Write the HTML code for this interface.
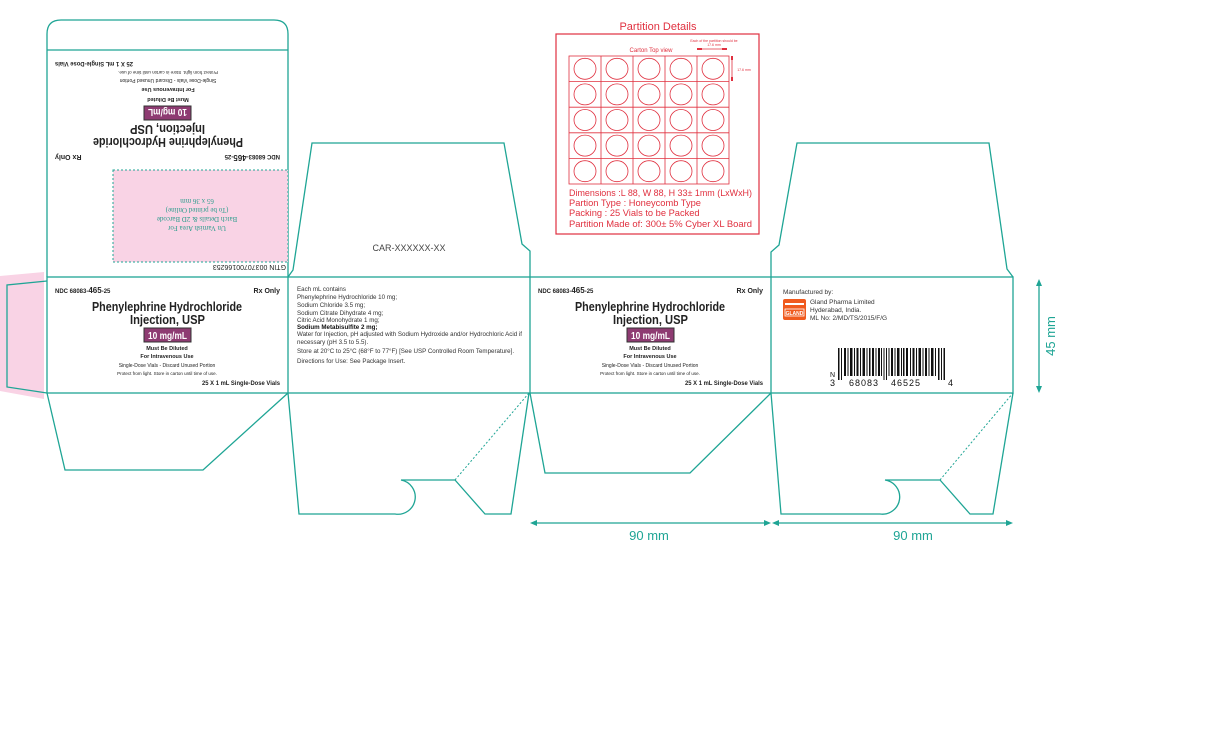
<!DOCTYPE html>
<html><head><meta charset="utf-8"><style>
html,body{margin:0;padding:0;background:#fff;}
svg{display:block;font-family:"Liberation Sans",sans-serif;}
</style></head><body>
<svg width="1208" height="732" viewBox="0 0 1208 732" xmlns="http://www.w3.org/2000/svg">
<g fill="none" stroke="#1fa595" stroke-width="1.3">
<polygon points="0,276 44,272 44,399 0,391" fill="#f9d3e5" stroke="none"/>
<polyline points="47,281 7,285 7,387 47,393"/>
<path d="M47,277 L47,34 Q47,20 61,20 L274,20 Q288,20 288,34 L288,277"/>
<line x1="47" y1="50" x2="288" y2="50"/>
<rect x="47" y="277" width="966" height="116"/>
<line x1="288" y1="277" x2="288" y2="393"/>
<line x1="530" y1="277" x2="530" y2="393"/>
<line x1="771" y1="277" x2="771" y2="393"/>
<polyline points="288,277 293,270 312,143 504,143 522,244 530,251 530,277"/>
<polyline points="771,277 771,252 779,245 797,143 989,143 1007,269 1013,277"/>
<polyline points="47,393 65,470 203,470 288,393"/>
<path d="M288,393 L299,514 L395,514 A17,17 0 0 0 401,480 L455,480 L485,514 L511,514 L529,393"/>
<polyline points="530,393 545,473 690,473 771,393"/>
<path d="M771,393 L781,514 L880,514 A17,17 0 0 0 885,480 L940,480 L970,514 L993,514 L1013,393"/>
</g>
<g stroke="#1fa595" stroke-width="1" stroke-dasharray="2,2" fill="none">
<line x1="455" y1="480" x2="529" y2="393"/>
<line x1="940" y1="480" x2="1013" y2="393"/>
</g>
<rect x="113" y="170" width="175" height="92" fill="#f9d3e5" stroke="#1fa595" stroke-width="1" stroke-dasharray="2,2"/>

<g transform="rotate(180 167.5 163.5)" fill="#222">
<text x="202" y="265" font-size="6.5" font-weight="bold" textLength="78" lengthAdjust="spacingAndGlyphs">25 X 1 mL Single-Dose Vials</text>
<text x="167" y="256" font-size="4.5" text-anchor="middle">Protect from light. Store in carton until time of use.</text>
<text x="167" y="248" font-size="5" text-anchor="middle">Single-Dose Vials - Discard Unused Portion</text>
<text x="167" y="239" font-size="5.5" font-weight="bold" text-anchor="middle">For Intravenous Use</text>
<text x="167" y="229" font-size="5.5" font-weight="bold" text-anchor="middle">Must Be Diluted</text>
<rect x="144" y="207" width="47" height="14" fill="#8e3b72" stroke="#333" stroke-width="1"/>
<text x="148" y="218" font-size="10" font-weight="bold" fill="#fff" textLength="39" lengthAdjust="spacingAndGlyphs">10 mg/mL</text>
<text x="130" y="202" font-size="13" font-weight="bold" textLength="75" lengthAdjust="spacingAndGlyphs">Injection, USP</text>
<text x="92" y="189" font-size="13" font-weight="bold" textLength="150" lengthAdjust="spacingAndGlyphs">Phenylephrine Hydrochloride</text>
<text x="55" y="172" font-size="6" font-weight="bold">NDC 68083-<tspan font-size="8">465</tspan>-25</text>
<text x="280" y="172" font-size="7" font-weight="bold" text-anchor="end">Rx Only</text>
<g font-family="Liberation Serif,serif" font-size="7" fill="#2a9c8c" text-anchor="middle">
<text x="138" y="101">Un Varnish Area For</text>
<text x="138" y="110">Batch Details &amp; 2D Barcode</text>
<text x="138" y="119">(To be printed Online)</text>
<text x="138" y="128">65 x 36 mm</text>
</g>
<text x="49" y="62" font-size="7">GTIN 00370700166253</text>
</g>

<g fill="#222">
<text x="55" y="293" font-size="6" font-weight="bold">NDC 68083-<tspan font-size="8">465</tspan>-25</text>
<text x="280" y="293" font-size="7" font-weight="bold" text-anchor="end">Rx Only</text>
<text x="92" y="311" font-size="13" font-weight="bold" textLength="150" lengthAdjust="spacingAndGlyphs">Phenylephrine Hydrochloride</text>
<text x="130" y="324" font-size="13" font-weight="bold" textLength="75" lengthAdjust="spacingAndGlyphs">Injection, USP</text>
<rect x="144" y="328" width="47" height="14" fill="#8e3b72" stroke="#333" stroke-width="1"/>
<text x="148" y="339" font-size="10" font-weight="bold" fill="#fff" textLength="39" lengthAdjust="spacingAndGlyphs">10 mg/mL</text>
<text x="167" y="350" font-size="5.5" font-weight="bold" text-anchor="middle">Must Be Diluted</text>
<text x="167" y="358" font-size="5.5" font-weight="bold" text-anchor="middle">For Intravenous Use</text>
<text x="167" y="367" font-size="5" text-anchor="middle">Single-Dose Vials - Discard Unused Portion</text>
<text x="167" y="375" font-size="4.5" text-anchor="middle">Protect from light. Store in carton until time of use.</text>
<text x="202" y="385" font-size="6.5" font-weight="bold" textLength="78" lengthAdjust="spacingAndGlyphs">25 X 1 mL Single-Dose Vials</text>
</g>
<g fill="#222" transform="translate(483 0)">
<text x="55" y="293" font-size="6" font-weight="bold">NDC 68083-<tspan font-size="8">465</tspan>-25</text>
<text x="280" y="293" font-size="7" font-weight="bold" text-anchor="end">Rx Only</text>
<text x="92" y="311" font-size="13" font-weight="bold" textLength="150" lengthAdjust="spacingAndGlyphs">Phenylephrine Hydrochloride</text>
<text x="130" y="324" font-size="13" font-weight="bold" textLength="75" lengthAdjust="spacingAndGlyphs">Injection, USP</text>
<rect x="144" y="328" width="47" height="14" fill="#8e3b72" stroke="#333" stroke-width="1"/>
<text x="148" y="339" font-size="10" font-weight="bold" fill="#fff" textLength="39" lengthAdjust="spacingAndGlyphs">10 mg/mL</text>
<text x="167" y="350" font-size="5.5" font-weight="bold" text-anchor="middle">Must Be Diluted</text>
<text x="167" y="358" font-size="5.5" font-weight="bold" text-anchor="middle">For Intravenous Use</text>
<text x="167" y="367" font-size="5" text-anchor="middle">Single-Dose Vials - Discard Unused Portion</text>
<text x="167" y="375" font-size="4.5" text-anchor="middle">Protect from light. Store in carton until time of use.</text>
<text x="202" y="385" font-size="6.5" font-weight="bold" textLength="78" lengthAdjust="spacingAndGlyphs">25 X 1 mL Single-Dose Vials</text>
</g>
<g fill="#333" font-size="6.2">
<text x="409" y="251" font-size="9" text-anchor="middle" fill="#444">CAR-XXXXXX-XX</text>
<text x="297" y="291">Each mL contains</text>
<text x="297" y="299">Phenylephrine Hydrochloride 10 mg;</text>
<text x="297" y="307">Sodium Chloride 3.5 mg;</text>
<text x="297" y="315">Sodium Citrate Dihydrate 4 mg;</text>
<text x="297" y="322">Citric Acid Monohydrate 1 mg;</text>
<text x="297" y="329" font-weight="bold" fill="#111">Sodium Metabisulfite 2 mg;</text>
<text x="297" y="336">Water for Injection, pH adjusted with Sodium Hydroxide and/or Hydrochloric Acid if</text>
<text x="297" y="344">necessary (pH 3.5 to 5.5).</text>
<text x="297" y="353">Store at 20°C to 25°C (68°F to 77°F) [See USP Controlled Room Temperature].</text>
<text x="297" y="363">Directions for Use: See Package Insert.</text>
</g>
<g fill="#333" font-size="6.5">
<text x="783" y="294">Manufactured by:</text>
<text x="810" y="304">Gland Pharma Limited</text>
<text x="810" y="312">Hyderabad, India.</text>
<text x="810" y="320">ML No: 2/MD/TS/2015/F/G</text>
</g>
<rect x="783" y="299" width="23" height="21" rx="2" fill="#f05a1e"/>
<rect x="785" y="303" width="19" height="2" fill="#fff"/>
<rect x="785" y="309" width="19" height="7" fill="none" stroke="#fff" stroke-width="0.8"/>
<text x="794.5" y="315" font-size="5" fill="#fff" text-anchor="middle" font-weight="bold">GLAND</text>
<g fill="#111">
<rect x="838" y="348" width="1.5" height="32"/><rect x="841" y="348" width="1" height="32"/>
<rect x="844" y="348" width="2" height="28"/><rect x="847.5" y="348" width="1" height="28"/><rect x="850" y="348" width="2.5" height="28"/><rect x="854" y="348" width="1" height="28"/><rect x="856.5" y="348" width="2" height="28"/><rect x="860" y="348" width="1" height="28"/><rect x="862.5" y="348" width="2.5" height="28"/><rect x="866.5" y="348" width="1" height="28"/><rect x="869" y="348" width="1.5" height="28"/><rect x="872" y="348" width="2" height="28"/><rect x="875.5" y="348" width="1" height="28"/><rect x="878" y="348" width="2" height="28"/><rect x="881" y="348" width="1" height="28"/>
<rect x="883.5" y="348" width="1" height="32"/><rect x="886" y="348" width="1" height="32"/>
<rect x="888.5" y="348" width="1" height="28"/><rect x="891" y="348" width="2" height="28"/><rect x="894.5" y="348" width="1" height="28"/><rect x="897" y="348" width="2.5" height="28"/><rect x="901" y="348" width="1" height="28"/><rect x="903" y="348" width="1.5" height="28"/><rect x="906" y="348" width="2" height="28"/><rect x="910" y="348" width="1" height="28"/><rect x="912.5" y="348" width="2" height="28"/><rect x="916" y="348" width="1" height="28"/><rect x="918.5" y="348" width="2.5" height="28"/><rect x="922.5" y="348" width="1" height="28"/><rect x="925" y="348" width="2" height="28"/><rect x="928.5" y="348" width="1" height="28"/><rect x="931" y="348" width="2.5" height="28"/><rect x="935" y="348" width="1" height="28"/>
<rect x="938" y="348" width="1.5" height="32"/><rect x="941" y="348" width="1" height="32"/><rect x="943.5" y="348" width="1.5" height="32"/>
</g>
<g fill="#111" font-size="9">
<text x="830" y="386">3</text>
<text x="830" y="377" font-size="7">N</text>
<text x="849" y="386" letter-spacing="1">68083</text>
<text x="891" y="386" letter-spacing="1">46525</text>
<text x="948" y="386">4</text>
</g>
<g fill="#e0303f">
<text x="658" y="30" font-size="11" text-anchor="middle">Partition Details</text>
<text x="651" y="52" font-size="6" text-anchor="middle">Carton Top view</text>
<text x="714" y="42" font-size="3.5" text-anchor="middle">Each of the partition should be</text>
<text x="714" y="46" font-size="3.5" text-anchor="middle">17.6 mm</text>
<text x="744" y="71" font-size="3.5" text-anchor="middle">17.6 mm</text>
<g font-size="9.3">
<text x="569" y="196" textLength="183" lengthAdjust="spacingAndGlyphs">Dimensions :L 88, W 88, H 33± 1mm (LxWxH)</text>
<text x="569" y="206">Partion Type : Honeycomb Type</text>
<text x="569" y="216">Packing : 25 Vials to be Packed</text>
<text x="569" y="227" textLength="183" lengthAdjust="spacingAndGlyphs">Partition Made of: 300± 5% Cyber XL Board</text>
</g>
</g>
<g fill="none" stroke="#e0303f" stroke-width="0.8">
<rect x="556" y="34" width="203" height="200" stroke-width="1.2"/>
<rect x="569" y="56" width="160" height="128"/>
<line x1="601" y1="56" x2="601" y2="184"/><line x1="633" y1="56" x2="633" y2="184"/><line x1="665" y1="56" x2="665" y2="184"/><line x1="697" y1="56" x2="697" y2="184"/>
<line x1="569" y1="81.6" x2="729" y2="81.6"/><line x1="569" y1="107.2" x2="729" y2="107.2"/><line x1="569" y1="132.8" x2="729" y2="132.8"/><line x1="569" y1="158.4" x2="729" y2="158.4"/>
<line x1="697" y1="49" x2="727" y2="49"/><line x1="732" y1="57" x2="732" y2="80"/>
</g>
<g fill="#e0303f"><rect x="697" y="48" width="5" height="2"/><rect x="722" y="48" width="5" height="2"/><rect x="731" y="56" width="2" height="4"/><rect x="731" y="77" width="2" height="4"/></g>
<g fill="none" stroke="#e0303f" stroke-width="0.8">
<g id="row">
<ellipse cx="585" cy="68.8" rx="11" ry="10.5"/><ellipse cx="617" cy="68.8" rx="11" ry="10.5"/><ellipse cx="649" cy="68.8" rx="11" ry="10.5"/><ellipse cx="681" cy="68.8" rx="11" ry="10.5"/><ellipse cx="713" cy="68.8" rx="11" ry="10.5"/>
</g>
<use href="#row" y="25.6"/><use href="#row" y="51.2"/><use href="#row" y="76.8"/><use href="#row" y="102.4"/>
</g>
<g stroke="#1fa595" stroke-width="1.3" fill="#1fa595">
<line x1="534" y1="523" x2="767" y2="523"/>
<polygon points="530,523 537,520 537,526" stroke="none"/><polygon points="771,523 764,520 764,526" stroke="none"/>
<line x1="776" y1="523" x2="1009" y2="523"/>
<polygon points="772,523 779,520 779,526" stroke="none"/><polygon points="1013,523 1006,520 1006,526" stroke="none"/>
<line x1="1039" y1="284" x2="1039" y2="388"/>
<polygon points="1039,279 1036,286 1042,286" stroke="none"/><polygon points="1039,393 1036,386 1042,386" stroke="none"/>
</g>
<g fill="#1fa595" font-size="13">
<text x="649" y="540" text-anchor="middle">90 mm</text>
<text x="913" y="540" text-anchor="middle">90 mm</text>
<text transform="translate(1055 336) rotate(-90)" text-anchor="middle">45 mm</text>
</g>
</svg>
</body></html>
